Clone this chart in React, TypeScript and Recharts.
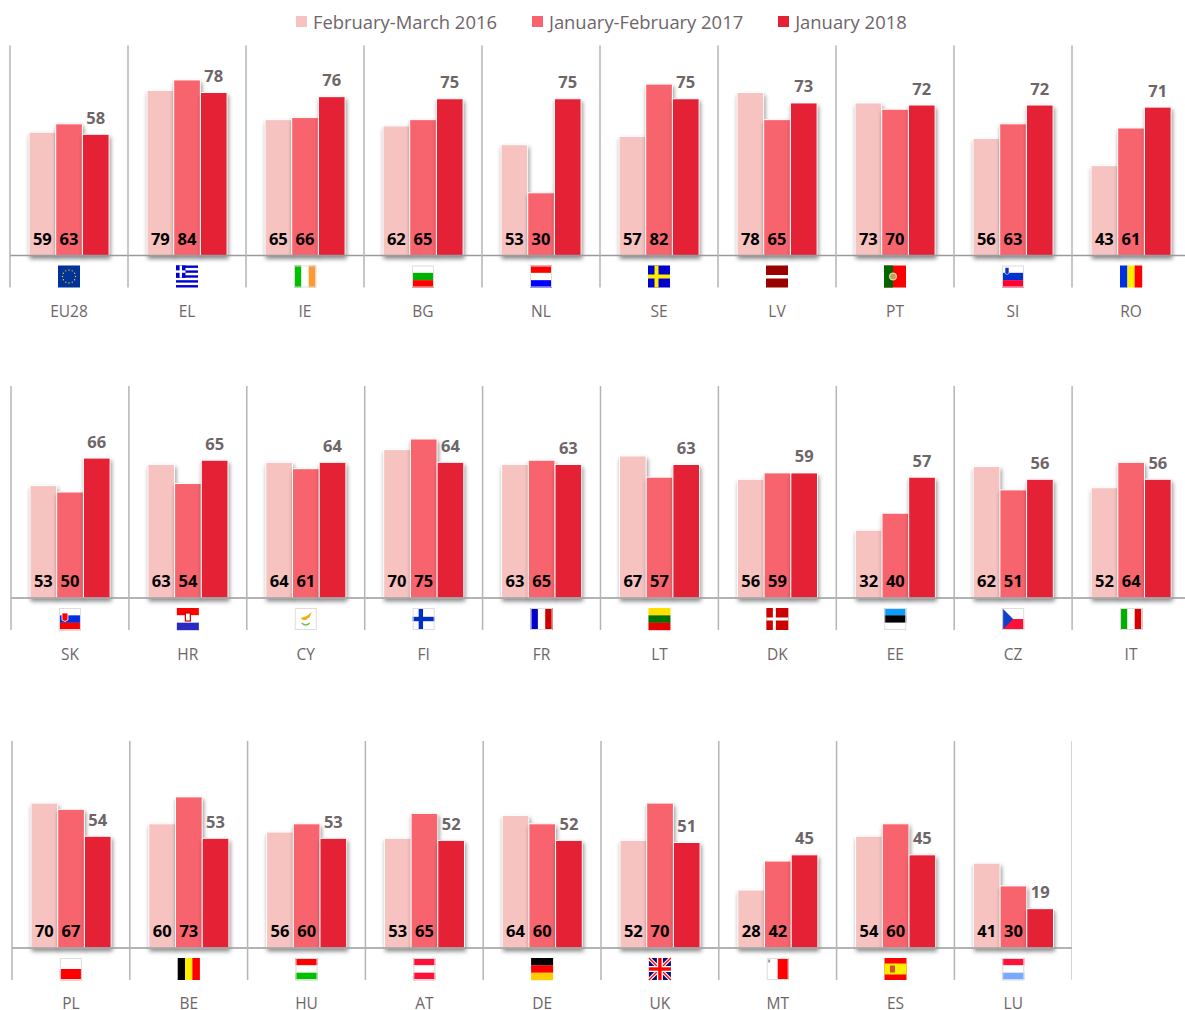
import React from "react";
import { BarChart, Bar, XAxis, YAxis, LabelList, Legend, Rectangle } from "recharts";

const SERIES_NAMES = ["February-March 2016", "January-February 2017", "January 2018"];
const SERIES_COLORS = ["#f6c3c0", "#f8646e", "#e52135"];

const ROW1_CODES = ["EU28", "EL", "IE", "BG", "NL", "SE", "LV", "PT", "SI", "RO"];
const ROW1_2016 = [59, 79, 65, 62, 53, 57, 78, 73, 56, 43];
const ROW1_2017 = [63, 84, 66, 65, 30, 82, 65, 70, 63, 61];
const ROW1_2018 = [58, 78, 76, 75, 75, 75, 73, 72, 72, 71];

const ROW2_CODES = ["SK", "HR", "CY", "FI", "FR", "LT", "DK", "EE", "CZ", "IT"];
const ROW2_2016 = [53, 63, 64, 70, 63, 67, 56, 32, 62, 52];
const ROW2_2017 = [50, 54, 61, 75, 65, 57, 59, 40, 51, 64];
const ROW2_2018 = [66, 65, 64, 64, 63, 63, 59, 57, 56, 56];

const ROW3_CODES = ["PL", "BE", "HU", "AT", "DE", "UK", "MT", "ES", "LU"];
const ROW3_2016 = [70, 60, 56, 53, 64, 52, 28, 54, 41];
const ROW3_2017 = [67, 73, 60, 65, 60, 70, 42, 60, 30];
const ROW3_2018 = [54, 53, 53, 52, 52, 51, 45, 45, 19];

const FONT = "'Open Sans', 'Noto Sans', sans-serif";
const GREY_TEXT = "#6e6568";
const LINE = "#b5b5b5";

// simple striped flags, everything else is drawn by hand in Flag
const H_STRIPES: Record<string, string[]> = {
  BG: ["#ffffff", "#00b000", "#ff0000"],
  NL: ["#ff0000", "#ffffff", "#0000ff"],
  LT: ["#ffdf00", "#007000", "#e80000"],
  EE: ["#0a9cff", "#000000", "#ffffff"],
  PL: ["#ffffff", "#ff0000"],
  HU: ["#ff0000", "#ffffff", "#00c000"],
  AT: ["#ff1038", "#ffffff", "#ff1038"],
  DE: ["#000000", "#ff0000", "#ffcc00"],
  LU: ["#ff1038", "#ffffff", "#78aaff"],
  SI: ["#ffffff", "#0030d0", "#ff0030"],
  SK: ["#ffffff", "#0030e0", "#ff0000"],
  HR: ["#ff0000", "#ffffff", "#2a2ac0"],
};
const V_STRIPES: Record<string, string[]> = {
  IE: ["#00c000", "#ffffff", "#ff9a30"],
  RO: ["#0030e0", "#ffee00", "#ff0000"],
  FR: ["#0000cc", "#ffffff", "#d00000"],
  IT: ["#00b000", "#ffffff", "#d80000"],
  BE: ["#000000", "#ffee00", "#ff0000"],
};
const BORDERED = ["IE", "BG", "NL", "SI", "SK", "CY", "FI", "FR", "EE", "CZ", "IT", "PL", "HU", "AT", "MT", "LU"];

function Flag({ code }: { code: string }) {
  const w = 22;
  const h = 22;
  const parts: React.ReactNode[] = [];
  if (H_STRIPES[code]) {
    const s = H_STRIPES[code];
    s.forEach((c, i) => parts.push(<rect key={i} x={0} y={(i * h) / s.length} width={w} height={h / s.length + 0.2} fill={c} />));
  } else if (V_STRIPES[code]) {
    const s = V_STRIPES[code];
    s.forEach((c, i) => parts.push(<rect key={i} x={(i * w) / s.length} y={0} width={w / s.length + 0.2} height={h} fill={c} />));
  }
  const extras: Record<string, React.ReactNode> = {
    EU: (
      <g>
        <rect width={w} height={h} fill="#003399" />
        {[0, 1, 2, 3, 4, 5, 6, 7, 8, 9, 10, 11].map((i) => (
          <circle key={i} cx={11 + 6.5 * Math.cos((i * Math.PI) / 6)} cy={11 + 6.5 * Math.sin((i * Math.PI) / 6)} r={0.7} fill="#ffcc00" />
        ))}
      </g>
    ),
    EL: (
      <g>
        <rect width={w} height={h} fill="#ffffff" />
        {[0, 4.9, 9.8, 14.7, 19.6].map((y) => <rect key={y} y={y} width={w} height={2.4} fill="#0000cc" />)}
        <rect width={9.5} height={12.2} fill="#0000cc" />
        <rect x={3.6} width={2.4} height={12.2} fill="#ffffff" />
        <rect y={4.9} width={9.5} height={2.4} fill="#ffffff" />
      </g>
    ),
    SE: (
      <g>
        <rect width={w} height={h} fill="#0000cc" />
        <rect x={6.5} width={4} height={h} fill="#ffee00" />
        <rect y={9} width={w} height={4} fill="#ffee00" />
      </g>
    ),
    LV: (
      <g>
        <rect width={w} height={h} fill="#990000" />
        <rect y={9.5} width={w} height={3.5} fill="#ffffff" />
      </g>
    ),
    PT: (
      <g>
        <rect width={w} height={h} fill="#ff0000" />
        <rect width={9} height={h} fill="#006600" />
        <circle cx={9} cy={11} r={3.6} fill="#c8a050" stroke="#ffffff" strokeWidth={0.8} />
      </g>
    ),
    CY: (
      <g>
        <rect width={w} height={h} fill="#ffffff" />
        <path d="M6 10 L12 8 L17 4 L15 9 L11 12 L8 12 Z" fill="#f0b010" />
        <path d="M7 15 Q11 19 15 15" stroke="#70c040" strokeWidth={1.2} fill="none" />
      </g>
    ),
    FI: (
      <g>
        <rect width={w} height={h} fill="#ffffff" />
        <rect x={6} width={4.4} height={h} fill="#0030c0" />
        <rect y={8.8} width={w} height={4.4} fill="#0030c0" />
      </g>
    ),
    DK: (
      <g>
        <rect width={w} height={h} fill="#cc0000" />
        <rect x={6.5} width={3} height={h} fill="#ffffff" />
        <rect y={9.5} width={w} height={3} fill="#ffffff" />
      </g>
    ),
    CZ: (
      <g>
        <rect width={w} height={11} fill="#ffffff" />
        <rect y={11} width={w} height={11} fill="#ff1038" />
        <path d="M0 0 L11 11 L0 22 Z" fill="#1040c8" />
      </g>
    ),
    UK: (
      <g>
        <rect width={w} height={h} fill="#00107a" />
        <path d="M0 0 L22 22 M22 0 L0 22" stroke="#ffffff" strokeWidth={3.6} />
        <path d="M0 0 L22 22 M22 0 L0 22" stroke="#ff0000" strokeWidth={1.3} />
        <rect x={8} width={6} height={h} fill="#ffffff" />
        <rect y={8} width={w} height={6} fill="#ffffff" />
        <rect x={9.3} width={3.4} height={h} fill="#ff0000" />
        <rect y={9.3} width={w} height={3.4} fill="#ff0000" />
      </g>
    ),
    MT: (
      <g>
        <rect width={w} height={h} fill="#ffffff" />
        <rect x={11} width={11} height={h} fill="#ff0000" />
        <rect x={1.5} y={1.5} width={2} height={3} fill="#999999" />
      </g>
    ),
    ES: (
      <g>
        <rect width={w} height={h} fill="#ff0000" />
        <rect y={5.5} width={w} height={11} fill="#ffee00" />
        <rect x={5.5} y={7.5} width={5} height={7} fill="#d05030" />
      </g>
    ),
  };
  const flagKey = code === "EU28" ? "EU" : code;
  return (
    <g transform={`translate(${-w / 2},0)`}>
      {parts}
      {extras[flagKey]}
      {code === "SK" && <path d="M3 5 h6 v7 q-3 3 -6 0 Z" fill="#ff0000" stroke="#ffffff" strokeWidth={0.8} />}
      {code === "SI" && <path d="M3 2 h4 v6 q-2 2 -4 0 Z" fill="#1030c0" stroke="#ffffff" strokeWidth={0.6} />}
      {code === "HR" && <rect x={8.5} y={5} width={5} height={8} fill="#ffffff" stroke="#cc0000" strokeWidth={1.2} />}
      {BORDERED.includes(code) && (
        <rect x={0.5} y={0.5} width={w - 1} height={h - 1} fill="none" stroke="#dddddd" strokeWidth={1} />
      )}
    </g>
  );
}

function CountryTick({ x, y, payload, index, last, band, gridUp, labelY }: any) {
  return (
    <g>
      <line x1={x - band / 2} x2={x - band / 2} y1={y - gridUp} y2={y + 32} stroke={LINE} strokeWidth={1.5} />
      {index === last && (
        <line x1={x + band / 2} x2={x + band / 2} y1={y - gridUp} y2={y + 32} stroke={LINE} strokeWidth={1.5} />
      )}
      <g transform={`translate(${x},${y + 10})`}>
        <Flag code={payload.value} />
      </g>
      <text x={x} y={y + labelY} textAnchor="middle" fontSize={15.5} fill={GREY_TEXT} fontFamily={FONT}>
        {payload.value}
      </text>
    </g>
  );
}

function ShadowBar(props: any) {
  return <Rectangle {...props} style={{ filter: "drop-shadow(1px 3px 2px rgba(0,0,0,0.45))" }} />;
}

function LegendRow({ payload }: any) {
  const items = SERIES_NAMES.map((name) => (payload || []).find((p: any) => p.value === name)).filter(Boolean);
  return (
    <div style={{ position: "absolute", left: 286, top: 9, display: "flex", fontFamily: FONT, fontSize: 18.4, color: GREY_TEXT, whiteSpace: "nowrap" }}>
      {items.map((p: any) => (
        <div key={p.value} style={{ display: "flex", alignItems: "center", marginRight: 35 }}>
          <span style={{ width: 11, height: 11, background: p.color, marginRight: 6 }} />
          <span>{p.value}</span>
        </div>
      ))}
    </div>
  );
}

function Row({ codes, a, b, c, baseline, left, unit, band, gridUp, labelY, withLegend }: any) {
  const data = codes.map((code: string, i: number) => ({ code, a: a[i], b: b[i], c: c[i] }));
  const plotHeight = unit * 100;
  const top = withLegend ? 0 : baseline - plotHeight;
  const topSpace = withLegend ? baseline - plotHeight : 0;
  return (
    <div style={{ position: "absolute", left: 0, top }}>
      <BarChart
        width={left + codes.length * band}
        height={topSpace + plotHeight + 70}
        data={data}
        barGap={0}
        barSize={26.7}
        margin={{ top: 0, right: 0, bottom: 0, left }}
      >
        <YAxis hide domain={[0, 100]} />
        <XAxis
          dataKey="code"
          height={70}
          interval={0}
          tickSize={0}
          tickMargin={0}
          axisLine={{ stroke: "#9a9a9a", strokeWidth: 1.5 }}
          tickLine={false}
          tick={<CountryTick last={codes.length - 1} band={band} gridUp={gridUp} labelY={labelY} />}
        />
        {withLegend && <Legend verticalAlign="top" height={topSpace} content={<LegendRow />} />}
        <Bar dataKey="a" name={SERIES_NAMES[0]} fill={SERIES_COLORS[0]} stroke="#ffffff" shape={<ShadowBar />} isAnimationActive={false}>
          <LabelList dataKey="a" position="insideBottom" offset={11} fill="#000000" fontSize={16.5} fontWeight={700} fontFamily={FONT} />
        </Bar>
        <Bar dataKey="b" name={SERIES_NAMES[1]} fill={SERIES_COLORS[1]} stroke="#ffffff" shape={<ShadowBar />} isAnimationActive={false}>
          <LabelList dataKey="b" position="insideBottom" offset={11} fill="#000000" fontSize={16.5} fontWeight={700} fontFamily={FONT} />
        </Bar>
        <Bar dataKey="c" name={SERIES_NAMES[2]} fill={SERIES_COLORS[2]} stroke="#ffffff" shape={<ShadowBar />} isAnimationActive={false}>
          <LabelList dataKey="c" position="top" offset={10.5} fill={GREY_TEXT} fontSize={16.5} fontWeight={700} fontFamily={FONT} />
        </Bar>
      </BarChart>
    </div>
  );
}

export default function App() {
  return (
    <div style={{ position: "fixed", left: 0, top: 0, width: 1185, height: 1010, overflow: "hidden", background: "#ffffff" }}>
      <Row codes={ROW1_CODES} a={ROW1_2016} b={ROW1_2017} c={ROW1_2018} baseline={255.5} left={10} unit={2.09} band={118} gridUp={210} labelY={61} withLegend />
      <Row codes={ROW2_CODES} a={ROW2_2016} b={ROW2_2017} c={ROW2_2018} baseline={598} left={11} unit={2.12} band={117.9} gridUp={213.5} labelY={61.5} />
      <Row codes={ROW3_CODES} a={ROW3_2016} b={ROW3_2017} c={ROW3_2018} baseline={948} left={12} unit={2.07} band={117.8} gridUp={208} labelY={61} />
    </div>
  );
}
